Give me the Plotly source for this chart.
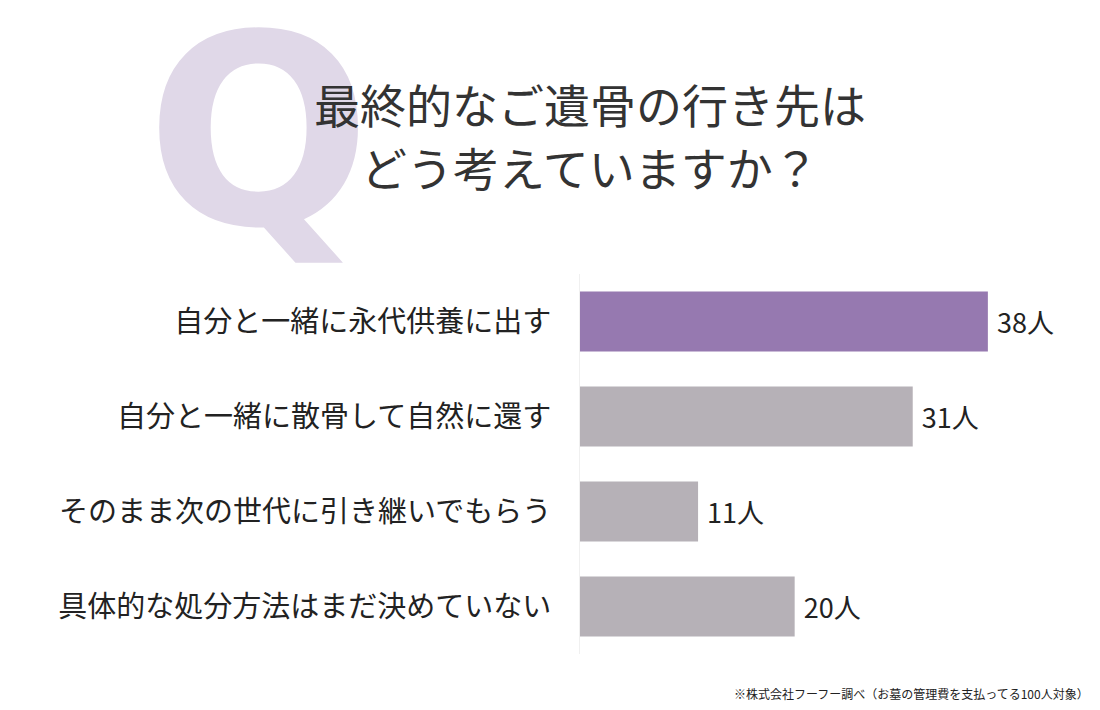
import plotly.graph_objects as go

categories = ["自分と一緒に永代供養に出す", "自分と一緒に散骨して自然に還す",
              "そのまま次の世代に引き継いでもらう", "具体的な処分方法はまだ決めていない"]
values = [38, 31, 11, 20]
bar_colors = ["#9679B0", "#B6B1B7", "#B6B1B7", "#B6B1B7"]
value_labels = [f" {v}人" for v in values]
title_lines = ["最終的なご遺骨の行き先は", "どう考えていますか？"]
footnote = "※株式会社フーフー調べ（お墓の管理費を支払ってる100人対象）"

FONT = "Noto Sans CJK JP"
W, H = 1100, 710
ML, MR, MT, MB = 580, 37, 274, 56
plot_l, plot_r, plot_t, plot_b = ML, W - MR, MT, H - MB
pw, ph = plot_r - plot_l, plot_b - plot_t


def px(xp):
    return (xp - plot_l) / pw


def py(yp):
    return (plot_b - yp) / ph


fig = go.Figure()
fig.add_trace(go.Bar(
    y=categories, x=values, orientation="h",
    marker=dict(color=bar_colors, line=dict(width=0)),
    width=0.63,
    text=value_labels, textposition="outside", cliponaxis=False,
    textfont=dict(family=FONT, size=27, color="#222222"),
    hoverinfo="skip",
))

annotations = [
    dict(text="Q", x=px(258), y=py(132), xref="paper", yref="paper",
         xanchor="center", yanchor="middle", showarrow=False,
         font=dict(family="DejaVu Sans", weight=700, size=265, color="#E0D8E8")),
    dict(text=title_lines[0], x=px(590), y=py(103), xref="paper", yref="paper",
         xanchor="center", yanchor="middle", showarrow=False,
         font=dict(family=FONT, size=46, color="#333333")),
    dict(text=title_lines[1], x=px(590), y=py(166), xref="paper", yref="paper",
         xanchor="center", yanchor="middle", showarrow=False,
         font=dict(family=FONT, size=46, color="#333333")),
    dict(text=footnote, x=px(1091), y=py(693), xref="paper", yref="paper",
         xanchor="right", yanchor="middle", showarrow=False,
         font=dict(family=FONT, size=12, color="#222222")),
]

fig.update_layout(
    width=W, height=H,
    paper_bgcolor="white", plot_bgcolor="white",
    margin=dict(l=ML, r=MR, t=MT, b=MB, autoexpand=False),
    showlegend=False,
    font=dict(family=FONT),
    xaxis=dict(range=[0, 45], visible=False, fixedrange=True),
    yaxis=dict(autorange="reversed", showgrid=False, zeroline=False,
               showline=True, linecolor="#F0F0F0", linewidth=1,
               ticks="", ticklabelstandoff=22,
               tickfont=dict(family=FONT, size=29, color="#222222")),
    annotations=annotations,
)

fig.write_html("out.html")
